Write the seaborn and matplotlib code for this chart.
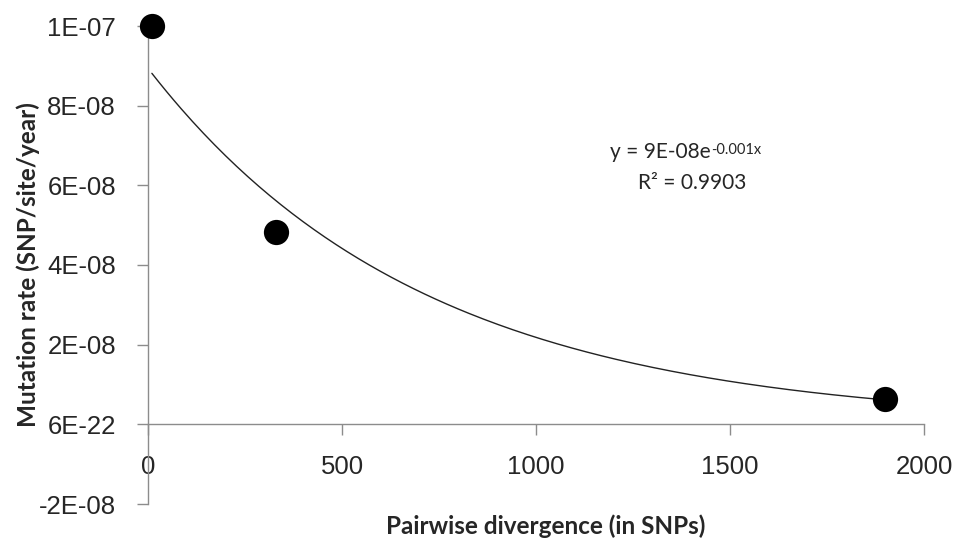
import numpy as np
import pandas as pd
import matplotlib
matplotlib.use("Agg")
import matplotlib.pyplot as plt
import seaborn as sns

# ---- data ----
divergence = [10, 330, 1900]
mutation_rate = [1.0e-07, 4.82e-08, 6.3e-09]
y_ticks = [-2e-08, 0.0, 2e-08, 4e-08, 6e-08, 8e-08, 1e-07]
y_tick_labels = ["-2E-08", "6E-22", "2E-08", "4E-08", "6E-08", "8E-08", "1E-07"]
x_ticks = [0, 500, 1000, 1500, 2000]
x_tick_labels = ["0", "500", "1000", "1500", "2000"]
eq_text = "y = 9E-08e"
eq_exp = "-0.001x"
r2_text = "R\u00b2 = 0.9903"

df = pd.DataFrame({"x": divergence, "y": mutation_rate})

# exponential trendline (least squares on log values, as Excel does)
b, ln_a = np.polyfit(df["x"], np.log(df["y"]), 1)
xs = np.linspace(min(divergence), max(divergence), 200)
trend = pd.DataFrame({"x": xs, "y": np.exp(ln_a) * np.exp(b * xs)})

sns.set_style("white")
plt.rcParams["font.family"] = ["Liberation Sans", "DejaVu Sans"]

fig = plt.figure(figsize=(9.58, 5.43), dpi=100)
ax = fig.add_axes([148 / 958, 1 - 504 / 543, 776 / 958, 478 / 543])

sns.lineplot(data=trend, x="x", y="y", ax=ax, color="#222222", linewidth=1.0)
sns.scatterplot(data=df, x="x", y="y", ax=ax, color="black", s=330,
                edgecolor="black", linewidth=0, clip_on=False, zorder=5)

ax.set_xlim(0, 2000)
ax.set_ylim(-2e-08, 1e-07)
ax.set_yticks(y_ticks)
ax.set_yticklabels(y_tick_labels)
ax.set_xticks(x_ticks)
ax.set_xticklabels(x_tick_labels)

spine_col = "#8c8c8c"
for s in ["top", "right"]:
    ax.spines[s].set_visible(False)
ax.spines["left"].set_color(spine_col)
ax.spines["bottom"].set_color(spine_col)
ax.spines["bottom"].set_position(("data", 0))
ax.spines["left"].set_linewidth(1.0)
ax.spines["bottom"].set_linewidth(1.0)

ax.tick_params(axis="y", direction="out", length=8, width=1, color=spine_col,
               labelsize=18.5, pad=15, left=True)
ax.tick_params(axis="x", direction="out", length=8, width=1, color=spine_col,
               labelsize=18.5, pad=14, bottom=True)

lab_font = ["Lato", "DejaVu Sans"]
ax.set_xlabel("Pairwise divergence (in SNPs)", fontsize=17.5, fontweight="bold",
              family=lab_font)
ax.xaxis.set_label_coords(0.512, -0.046)
ax.xaxis.label.set_va("center")
ax.set_ylabel("Mutation rate (SNP/site/year)", fontsize=17.5, fontweight="bold",
              family=lab_font)
ax.yaxis.set_label_coords(-0.155, 0.5)
ax.yaxis.label.set_va("center")

t1 = ax.text(1191, 6.83e-08, eq_text, fontsize=15, family=lab_font,
             ha="left", va="center")
ax.annotate(eq_exp, xy=(1.0, 0.95), xycoords=t1, fontsize=10.5,
            family=lab_font, ha="left", va="top")
ax.text(1402, 6.07e-08, r2_text, fontsize=15, family=lab_font,
        ha="center", va="center")

fig.savefig("out.png", dpi=100, facecolor="white")
